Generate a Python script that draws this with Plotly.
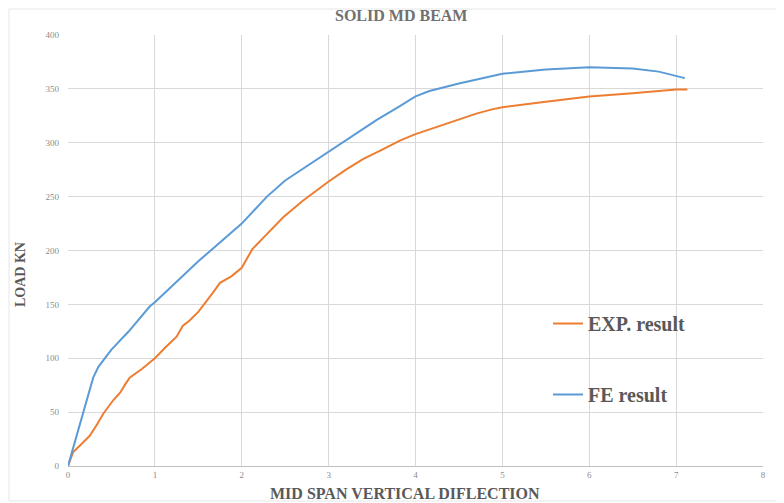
import plotly.graph_objects as go

# Experimental result (orange)
exp_x = [0, 0.06, 0.15, 0.25, 0.33, 0.41, 0.52, 0.60, 0.66, 0.71, 0.85, 1.0, 1.12, 1.25, 1.32, 1.40,
         1.50, 1.57, 1.66, 1.75, 1.88, 2.0, 2.06, 2.12, 2.25, 2.48, 2.7, 3.0, 3.2, 3.4, 3.6,
         3.82, 4.0, 4.25, 4.5, 4.7, 4.88, 5.0, 5.5, 6.0, 6.5, 7.0, 7.13]
exp_y = [0, 13, 20, 28, 38, 49, 61, 68, 76, 82, 90, 100, 110, 120, 130, 135,
         143, 150, 160, 170, 176, 184, 193, 201, 212, 231, 246, 264, 275, 285, 293,
         302, 308, 315, 322, 327, 331, 333, 338, 343, 346, 349.5, 349.5]

# Finite element result (blue)
fe_x = [0, 0.29, 0.35, 0.5, 0.7, 0.94, 1.0, 1.5, 2.0, 2.29, 2.5, 3.0, 3.55, 3.82, 4.0,
        4.16, 4.5, 5.0, 5.5, 6.0, 6.5, 6.8, 7.1]
fe_y = [0, 82, 92, 108, 125, 148, 152, 190, 225, 250, 265, 292, 321, 334, 343,
        348, 355, 364, 368, 370, 369, 366, 360]

x_ticks = [0, 1, 2, 3, 4, 5, 6, 7, 8]
y_ticks = [0, 50, 100, 150, 200, 250, 300, 350, 400]

SERIF = "Liberation Serif, Times New Roman, serif"

# page pixel geometry of the plot area (page has an 8px body margin)
PL, PR, PT, PB = 68, 763, 35, 466
W, H = PR - PL, PB - PT


def px(x):
    return (x - PL) / W


def py(y):
    return (PB - y) / H


fig = go.Figure()
fig.add_trace(go.Scatter(x=exp_x, y=exp_y, mode="lines", name="EXP. result",
                         legendgroup="exp",
                         line=dict(color="#ED7D31", width=2)))
fig.add_trace(go.Scatter(x=fe_x, y=fe_y, mode="lines", name="FE result",
                         legendgroup="fe",
                         line=dict(color="#5B9BD5", width=2)))

fig.update_layout(
    width=784, height=503,
    margin=dict(l=PL - 8, r=784 + 8 - PR, t=PT - 8, b=503 + 8 - PB, autoexpand=False),
    paper_bgcolor="white", plot_bgcolor="white",
    xaxis=dict(range=[0, 8], tickvals=x_ticks, ticktext=[str(v) for v in x_ticks],
               showgrid=True, gridcolor="#d9d9d9", gridwidth=1,
               zeroline=False, showline=True, linecolor="#bfbfbf", linewidth=1,
               tickfont=dict(family=SERIF, size=9, color="#8c8c8c"),
               ticks="", fixedrange=True),
    yaxis=dict(range=[0, 400], tickvals=y_ticks, ticktext=[str(v) for v in y_ticks],
               showgrid=True, gridcolor="#d9d9d9", gridwidth=1,
               zeroline=False, showline=False,
               tickfont=dict(family=SERIF, size=9, color="#8c8c8c"),
               ticks="", ticklabelstandoff=8, fixedrange=True),
    showlegend=True,
    legend=dict(x=px(548), y=py(304), xanchor="left", yanchor="top",
                bgcolor="rgba(0,0,0,0)", tracegroupgap=42,
                font=dict(family=SERIF, size=20, color="#595959", weight="bold")),
    annotations=[
        dict(text="<b>SOLID MD BEAM</b>", xref="paper", yref="paper",
             x=px(401), y=py(16), xanchor="center", yanchor="middle",
             showarrow=False, font=dict(family=SERIF, size=16, color="#707070")),
        dict(text="<b>MID SPAN VERTICAL DIFLECTION</b>", xref="paper", yref="paper",
             x=px(405), y=py(493), xanchor="center", yanchor="middle",
             showarrow=False, font=dict(family=SERIF, size=16, color="#595959")),
        dict(text="<b>LOAD KN</b>", xref="paper", yref="paper", textangle=-90,
             x=px(20), y=py(275), xanchor="center", yanchor="middle",
             showarrow=False, font=dict(family=SERIF, size=14, color="#595959")),
    ],
    shapes=[
        dict(type="rect", xref="paper", yref="paper",
             x0=px(9), x1=px(781), y0=py(501), y1=py(9),
             line=dict(color="#e6e6e6", width=1), fillcolor="rgba(0,0,0,0)", layer="below"),
    ],
)

fig.write_html("out.html")
